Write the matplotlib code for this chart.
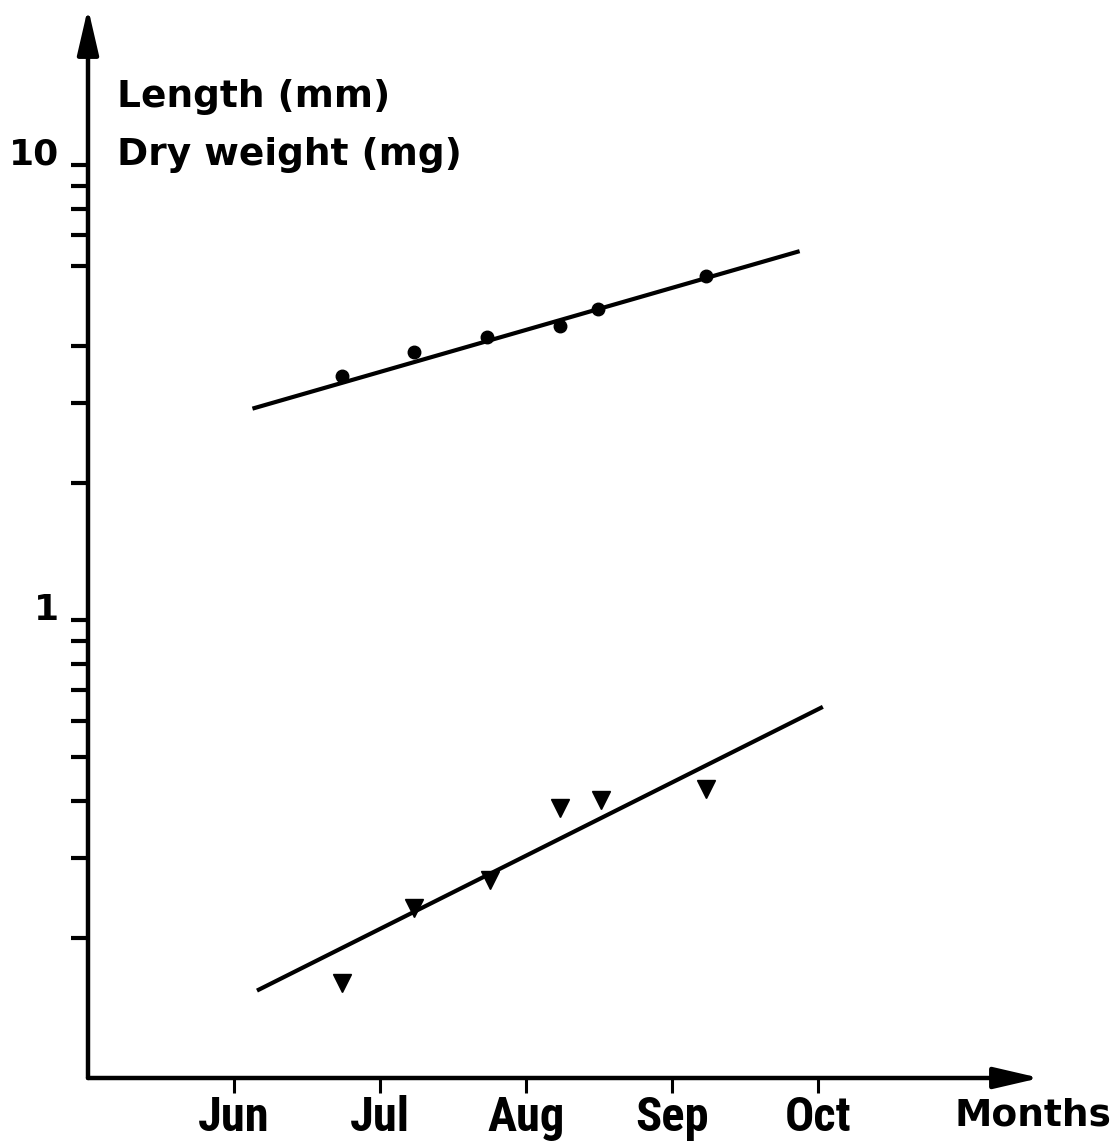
import matplotlib
matplotlib.use("Agg")
import matplotlib.pyplot as plt
from matplotlib import font_manager as fm
from matplotlib.ticker import FixedLocator, NullFormatter

# months on x: 5 = May, 6 = Jun, ...
months = ["Jun", "Jul", "Aug", "Sep", "Oct"]
month_pos = [6, 7, 8, 9, 10]

# length (mm), dots
length_x = [6.74, 7.23, 7.73, 8.23, 8.49, 9.23]
length_y = [3.44, 3.88, 4.19, 4.43, 4.83, 5.70]
length_fit_x = [6.14, 9.86]
length_fit_y = [2.92, 6.44]

# dry weight (mg), triangles
weight_x = [6.74, 7.23, 7.75, 8.23, 8.51, 9.23]
weight_y = [0.159, 0.233, 0.268, 0.386, 0.402, 0.425]
weight_fit_x = [6.17, 10.02]
weight_fit_y = [0.154, 0.641]

y_major = [1, 10]
y_minor = [0.2, 0.3, 0.4, 0.5, 0.6, 0.7, 0.8, 0.9, 2, 3, 4, 6, 7, 8, 9]

names = {f.name for f in fm.fontManager.ttflist}
month_font = "DejaVu Sans"
for cand in ["Roboto Condensed", "Liberation Sans Narrow", "DejaVu Sans Condensed"]:
    if cand in names:
        month_font = cand
        break

fig = plt.figure(figsize=(11.11, 11.44), dpi=100)
ax = fig.add_axes([88/1111, 66/1144, 952/1111, 1070/1144])
ax.set_xlim(5, 11.52)
ax.set_yscale("log")
ax.set_ylim(0.0985, 22.1)

for s in ax.spines.values():
    s.set_visible(False)

# axes with arrow heads
arrow = dict(arrowstyle="-|>,head_length=28,head_width=6.5", mutation_scale=1,
             lw=3.2, color="black", shrinkA=0, shrinkB=0)
ax.annotate("", xy=(0, 1), xytext=(0, 0), xycoords="axes fraction", arrowprops=arrow)
ax.annotate("", xy=(1, 0), xytext=(0, 0), xycoords="axes fraction", arrowprops=arrow)

ax.plot(length_fit_x, length_fit_y, color="black", lw=3)
ax.plot(weight_fit_x, weight_fit_y, color="black", lw=3)
ax.plot(length_x, length_y, "o", color="black", ms=9)
ax.plot(weight_x, weight_y, "v", color="black", ms=12.5)

ax.yaxis.set_major_locator(FixedLocator(y_major))
ax.yaxis.set_minor_locator(FixedLocator(y_minor))
ax.yaxis.set_minor_formatter(NullFormatter())
ax.set_yticklabels(["1", "10"], fontsize=26, fontweight="bold", va="baseline")
ax.tick_params(axis="y", which="both", direction="out", length=12, width=3, pad=9)

ax.set_xticks(month_pos)
ax.set_xticklabels(months, fontsize=35, fontweight="bold", family=month_font)
ax.xaxis.set_minor_locator(FixedLocator([]))
ax.tick_params(axis="x", direction="out", length=11, width=2.2, pad=1)

fig.text(117/1111, 1 - 107/1144, "Length (mm)", fontsize=27, fontweight="bold", va="baseline")
fig.text(117/1111, 1 - 165/1144, "Dry weight (mg)", fontsize=27, fontweight="bold", va="baseline")
fig.text(955/1111, 1 - 1125/1144, "Months", fontsize=27, fontweight="bold", va="baseline")

fig.savefig("out.png", dpi=100)
